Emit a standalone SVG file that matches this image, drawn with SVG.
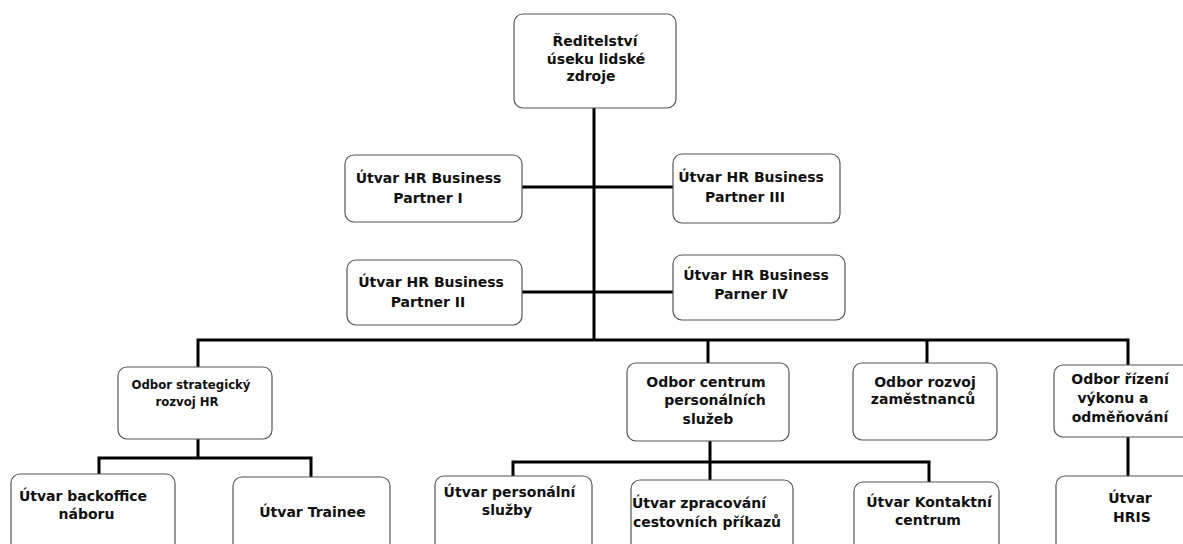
<svg xmlns="http://www.w3.org/2000/svg" width="1183" height="544" viewBox="0 0 1183 544">
<style>
.box{fill:#fff;stroke:#555;stroke-width:1.2}
.ln{stroke:#000;stroke-width:3;fill:none;stroke-linecap:square}
text{font-family:"DejaVu Sans","Verdana",sans-serif;font-weight:bold;font-size:14px;fill:#111;text-anchor:middle}
.c{font-family:"DejaVu Sans Condensed","DejaVu Sans",sans-serif;font-stretch:condensed;font-size:13px}
</style>
<rect width="1183" height="544" fill="#fff"/>
<g id="connectors">
<path class="ln" d="M594,108V340M522,187H673M522,292H673M198,340H1128M198,340V367M708,340V363M927,340V363M1128,340V365"/>
<path class="ln" d="M198,439V458M99,458H311M99,458V474M311,458V477"/>
<path class="ln" d="M710,441V462M513,462H929M513,462V476M710,462V480M929,462V482"/>
<path class="ln" d="M1128,437V476"/>
</g>
<g id="n-reditelstvi"><rect class="box" x="514" y="14" width="162" height="94" rx="9"/>
<text x="595" y="46">Ředitelství</text><text x="596" y="63.5">úseku lidské</text><text x="591" y="81">zdroje</text></g>
<g id="n-bp1"><rect class="box" x="345" y="155" width="177" height="67" rx="9"/>
<text x="428.5" y="183">Útvar HR Business</text><text x="428" y="203">Partner I</text></g>
<g id="n-bp3"><rect class="box" x="673" y="154" width="167" height="69" rx="9"/>
<text x="751" y="182">Útvar HR Business</text><text x="745" y="202">Partner III</text></g>
<g id="n-bp2"><rect class="box" x="347" y="260" width="175" height="65" rx="9"/>
<text x="431" y="287">Útvar HR Business</text><text x="428" y="307">Partner II</text></g>
<g id="n-bp4"><rect class="box" x="673" y="255" width="172" height="65" rx="9"/>
<text x="756" y="280">Útvar HR Business</text><text x="751" y="299">Parner IV</text></g>
<g id="n-strategicky"><rect class="box" x="118" y="367" width="154" height="72" rx="9"/>
<text class="c" x="191" y="389">Odbor strategický</text><text class="c" x="187" y="406">rozvoj HR</text></g>
<g id="n-centrum"><rect class="box" x="627" y="363" width="162" height="78" rx="9"/>
<text x="706" y="387">Odbor centrum</text><text x="715" y="405">personálních</text><text x="708" y="424">služeb</text></g>
<g id="n-rozvoj"><rect class="box" x="853" y="363" width="144" height="77" rx="9"/>
<text x="925" y="387">Odbor rozvoj</text><text x="923" y="404">zaměstnanců</text></g>
<g id="n-rizeni"><rect class="box" x="1054" y="365" width="140" height="72" rx="9"/>
<text x="1120" y="384">Odbor řízení</text><text x="1113" y="403">výkonu a</text><text x="1120" y="422">odměňování</text></g>
<g id="n-backoffice"><rect class="box" x="11" y="474" width="164" height="90" rx="9"/>
<text x="83" y="501">Útvar backoffice</text><text x="86.5" y="519">náboru</text></g>
<g id="n-trainee"><rect class="box" x="233" y="477" width="157" height="90" rx="9"/>
<text x="312.5" y="517">Útvar Trainee</text></g>
<g id="n-personalni"><rect class="box" x="435" y="476" width="157" height="90" rx="9"/>
<text x="509.5" y="497">Útvar personální</text><text x="507" y="515">služby</text></g>
<g id="n-zpracovani"><rect class="box" x="631" y="480" width="162" height="90" rx="9"/>
<text x="699" y="508">Útvar zpracování</text><text x="707" y="527">cestovních příkazů</text></g>
<g id="n-kontaktni"><rect class="box" x="854" y="482" width="145" height="90" rx="9"/>
<text x="929" y="507">Útvar Kontaktní</text><text x="928" y="525">centrum</text></g>
<g id="n-hris"><rect class="box" x="1056" y="476" width="140" height="90" rx="9"/>
<text x="1130" y="503">Útvar</text><text x="1132" y="522">HRIS</text></g>
</svg>
